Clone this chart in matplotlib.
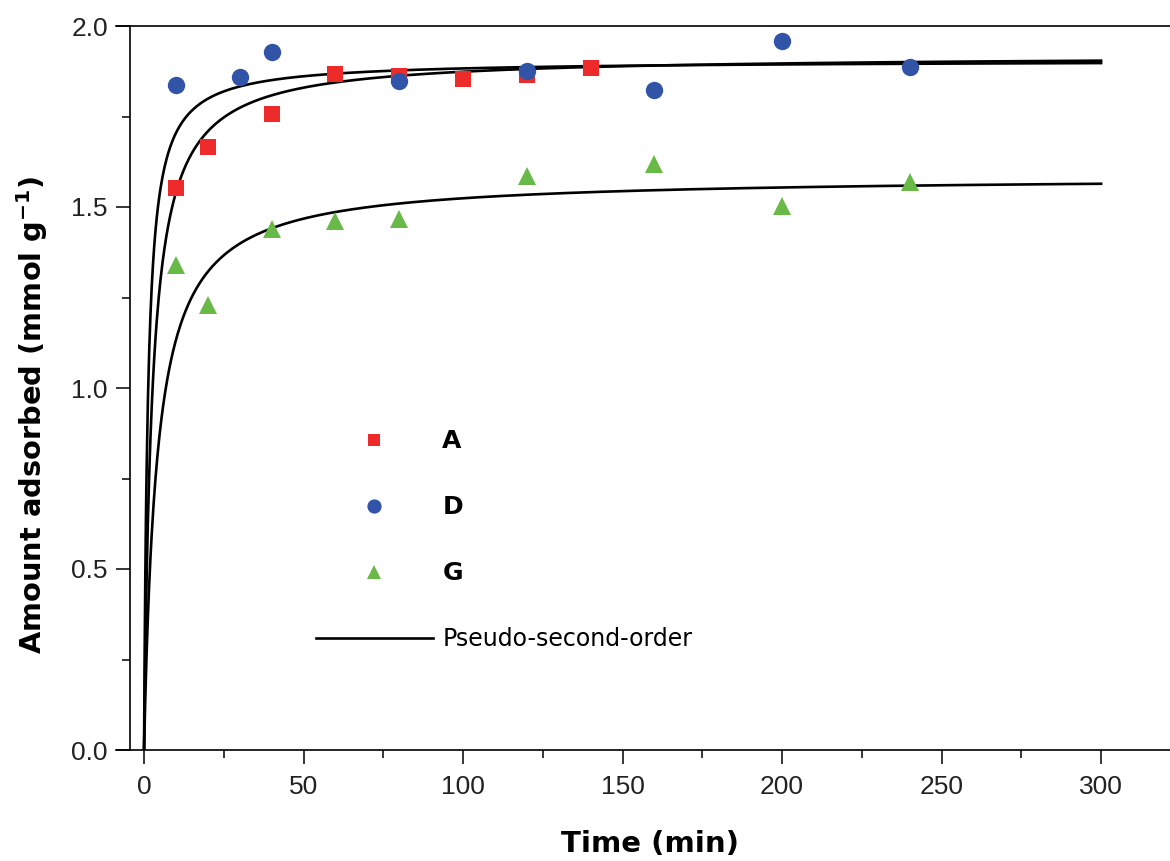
import numpy as np
import matplotlib
matplotlib.use("Agg")
import matplotlib.pyplot as plt
from matplotlib.lines import Line2D
import matplotlib.transforms as mtransforms

# ---- data ----
time_A = [10, 20, 40, 60, 80, 100, 120, 140]
q_A = [1.553, 1.666, 1.757, 1.868, 1.862, 1.854, 1.865, 1.884]

time_D = [10, 30, 40, 80, 120, 160, 200, 240]
q_D = [1.837, 1.859, 1.928, 1.848, 1.876, 1.823, 1.959, 1.887]

time_G = [10, 20, 40, 60, 80, 120, 160, 200, 240]
q_G = [1.341, 1.228, 1.440, 1.462, 1.468, 1.586, 1.619, 1.503, 1.570]

# pseudo-second-order fit parameters (qe in mmol/g, k in g/(mmol min))
qe_fit = {"A": 1.92, "D": 1.905, "G": 1.585}
k_fit = {"A": 0.211, "D": 0.446, "G": 0.158}

series_labels = ["A", "D", "G"]
colors = {"A": "#ee2b2b", "D": "#3153a8", "G": "#68b947"}
markers = {"A": "s", "D": "o", "G": "^"}
msizes = {"A": 11, "D": 12.5, "G": 13}

x_ticks = [0, 50, 100, 150, 200, 250, 300]
y_ticks = [0.0, 0.5, 1.0, 1.5, 2.0]

W, H = 1170, 861
fig = plt.figure(figsize=(W / 100, H / 100), dpi=100)
ax = fig.add_axes([130 / W, (H - 750) / H, 1040 / W, 724 / H])

t_model = np.linspace(0, 300, 1500)
for s in series_labels:
    qe, k = qe_fit[s], k_fit[s]
    q_model = qe ** 2 * k * t_model / (1 + qe * k * t_model)
    ax.plot(t_model, q_model, color="black", lw=1.9, zorder=2)

data = {"A": (time_A, q_A), "D": (time_D, q_D), "G": (time_G, q_G)}
for s in series_labels:
    t, q = data[s]
    ax.plot(t, q, linestyle="none", marker=markers[s], color=colors[s],
            markersize=msizes[s], markeredgewidth=0, zorder=3)

ax.set_xticks(x_ticks)
ax.set_yticks(y_ticks)
ax.set_yticklabels([f"{v:.1f}" for v in y_ticks])
ax.set_xticks([25, 75, 125, 175, 225, 275], minor=True)
ax.set_yticks([0.25, 0.75, 1.25, 1.75], minor=True)
ax.set_xlim(-4.4, 321.6)
ax.set_ylim(0, 2.0)

for sp in ["top", "right", "bottom"]:
    ax.spines[sp].set_visible(False)
ax.spines["left"].set_linewidth(1.2)

# horizontal frame lines at y=0 and y=2 starting at the left tick ends
trans = mtransforms.blended_transform_factory(ax.transAxes, ax.transData)
for yv in (0.0, 2.0):
    ax.add_line(Line2D([-14 / 1040, 1.02], [yv, yv], transform=trans,
                       color="black", lw=1.2, clip_on=False, zorder=4))

ax.tick_params(axis="both", which="major", direction="out", length=10, width=1.1,
               labelsize=19, colors="black")
ax.tick_params(axis="both", which="minor", direction="out", length=5.5, width=1.1)
ax.tick_params(axis="x", which="major", pad=8)
ax.tick_params(axis="y", which="major", pad=6)
for lab in ax.get_xticklabels() + ax.get_yticklabels():
    lab.set_fontfamily("Liberation Sans")
    lab.set_color("#222222")

ax.set_xlabel("Time (min)", fontsize=21, fontweight="bold", labelpad=22)
ax.set_ylabel("Amount adsorbed (mmol g$^{\\mathbf{-1}}$)", fontsize=20.8,
              fontweight="bold")
ax.yaxis.set_label_coords(-80 / 1040, (750 - 415) / 724)

# legend
handles = []
for s in series_labels:
    handles.append(Line2D([], [], linestyle="none", marker=markers[s], color=colors[s],
                          markersize=msizes[s] * 0.82, markeredgewidth=0))
handles.append(Line2D([], [], color="black", lw=1.9))
leg_labels = ["A", "D", "G", "Pseudo-second-order"]
leg = ax.legend(handles, leg_labels, loc="upper left",
                bbox_to_anchor=((316 - 130) / 1040, (750 - 429) / 724),
                frameon=False, fontsize=17, handlelength=4.95, handletextpad=0.4,
                labelspacing=1.78, borderpad=0, borderaxespad=0)
for i, txt in enumerate(leg.get_texts()):
    if i < 3:
        txt.set_fontweight("bold")
        txt.set_fontsize(18)

fig.savefig("out.png", dpi=100)
